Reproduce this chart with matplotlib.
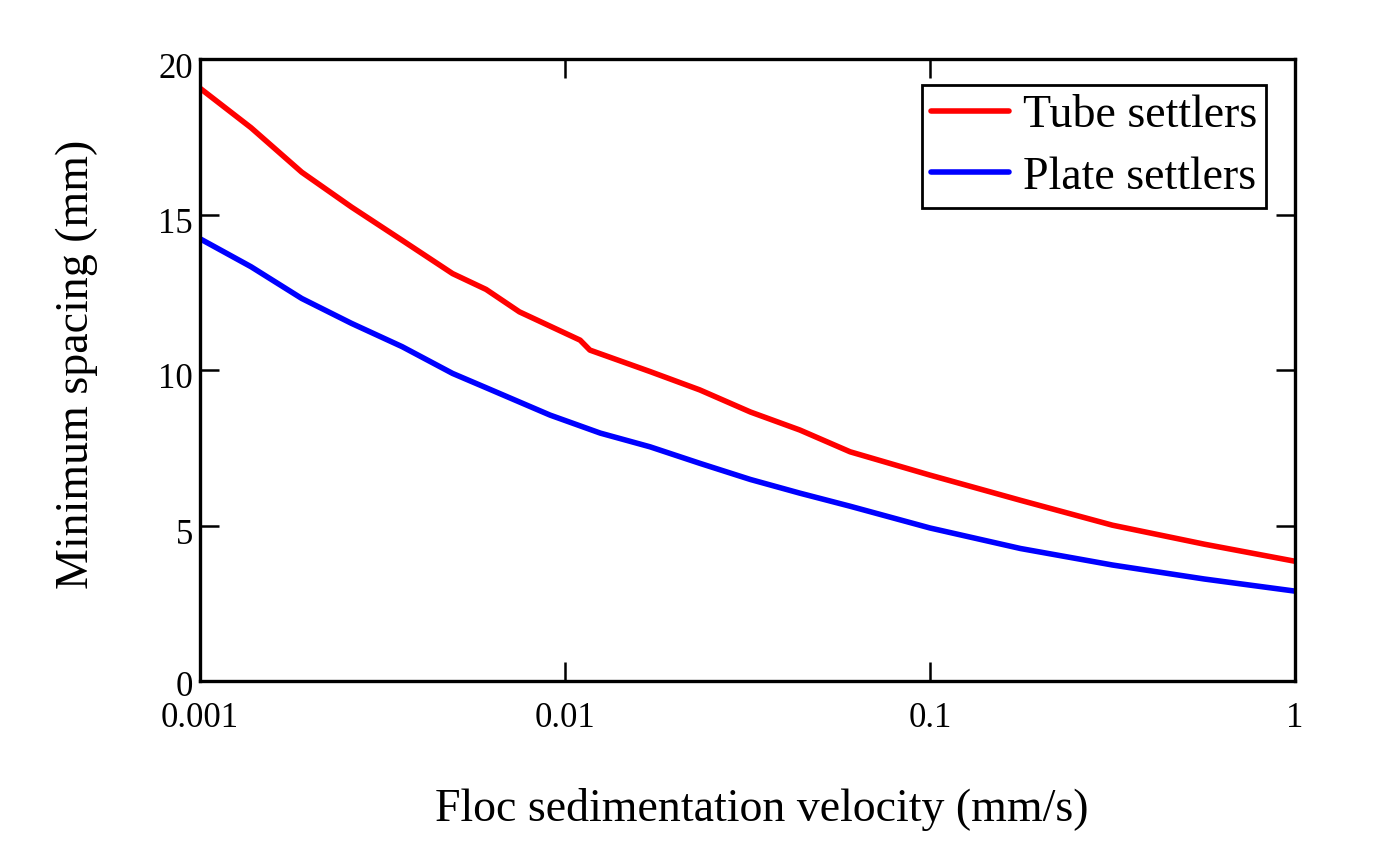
import matplotlib
matplotlib.use("Agg")
import matplotlib.pyplot as plt
from matplotlib.ticker import NullLocator, FixedLocator
import matplotlib.transforms as mtransforms

# ---- data ----
tube_v = [0.001, 0.00138, 0.0019, 0.0026, 0.00358, 0.00492, 0.00608, 0.0075,
          0.011, 0.0117, 0.0171, 0.0234, 0.0322, 0.044, 0.0604, 0.1, 0.177,
          0.316, 0.564, 1.0]
tube_mm = [19.06, 17.79, 16.36, 15.24, 14.17, 13.10, 12.59, 11.87,
           10.96, 10.64, 9.95, 9.36, 8.65, 8.07, 7.37, 6.62, 5.81,
           5.01, 4.40, 3.85]

plate_v = [0.001, 0.00138, 0.0019, 0.0026, 0.00358, 0.00492, 0.00608, 0.0091,
           0.0125, 0.0171, 0.0234, 0.0322, 0.044, 0.0604, 0.1, 0.177, 0.316,
           0.564, 1.0]
plate_mm = [14.22, 13.32, 12.30, 11.50, 10.75, 9.89, 9.43, 8.55,
            7.97, 7.53, 7.00, 6.48, 6.04, 5.62, 4.92, 4.26, 3.73,
            3.28, 2.89]

x_ticks = [0.001, 0.01, 0.1, 1]
x_tick_labels = ["0.001", "0.01", "0.1", "1"]
y_ticks = [0, 5, 10, 15, 20]
y_tick_labels = ["0", "5", "10", "15", "20"]

series_labels = ["Tube settlers", "Plate settlers"]
x_label = "Floc sedimentation velocity (mm/s)"
y_label = "Minimum spacing (mm)"

plt.rcParams['font.family'] = ['Liberation Serif', 'DejaVu Serif']

fig = plt.figure(figsize=(13.77, 8.56), dpi=100)
ax = fig.add_axes([200/1377, 1-681/856, 1095/1377, 622/856])

ax.plot(tube_v, tube_mm, color='#ff0000', lw=4.0, label=series_labels[0],
        solid_capstyle='round', solid_joinstyle='round')
ax.plot(plate_v, plate_mm, color='#0000ff', lw=4.0, label=series_labels[1],
        solid_capstyle='round', solid_joinstyle='round')

ax.set_xscale('log')
ax.set_xlim(0.001, 1)
ax.set_ylim(0, 20)
ax.xaxis.set_major_locator(FixedLocator(x_ticks))
ax.xaxis.set_minor_locator(NullLocator())
ax.set_xticklabels(x_tick_labels)
ax.set_yticks(y_ticks)
ax.set_yticklabels(y_tick_labels)

for s in ax.spines.values():
    s.set_linewidth(2.4)

ax.tick_params(axis='both', which='major', direction='in', length=13.5,
               width=1.8, top=True, right=True, labeltop=False,
               labelright=False, labelsize=25, color='black')
ax.tick_params(axis='x', pad=15)
ax.tick_params(axis='y', pad=5)

for i, lab in enumerate(ax.get_yticklabels()):
    dy = 3 if i == 0 else 6
    offset = mtransforms.ScaledTranslation(0, -dy/100, fig.dpi_scale_trans)
    lab.set_transform(lab.get_transform() + offset)

ax.set_xlabel(x_label, fontsize=33)
ax.set_ylabel(y_label, fontsize=33)
ax.xaxis.set_label_coords(0.513, -0.172)
ax.yaxis.set_label_coords(-0.093, 0.509)

leg = ax.legend(loc='upper right', bbox_to_anchor=(0.9735, 0.958),
                borderaxespad=0, fontsize=33, frameon=True, fancybox=False,
                edgecolor='black', framealpha=1, handlelength=1.7,
                handletextpad=0.3, borderpad=0.2, labelspacing=0.42)
leg.get_frame().set_linewidth(2.0)

fig.savefig("out.png", dpi=100)
